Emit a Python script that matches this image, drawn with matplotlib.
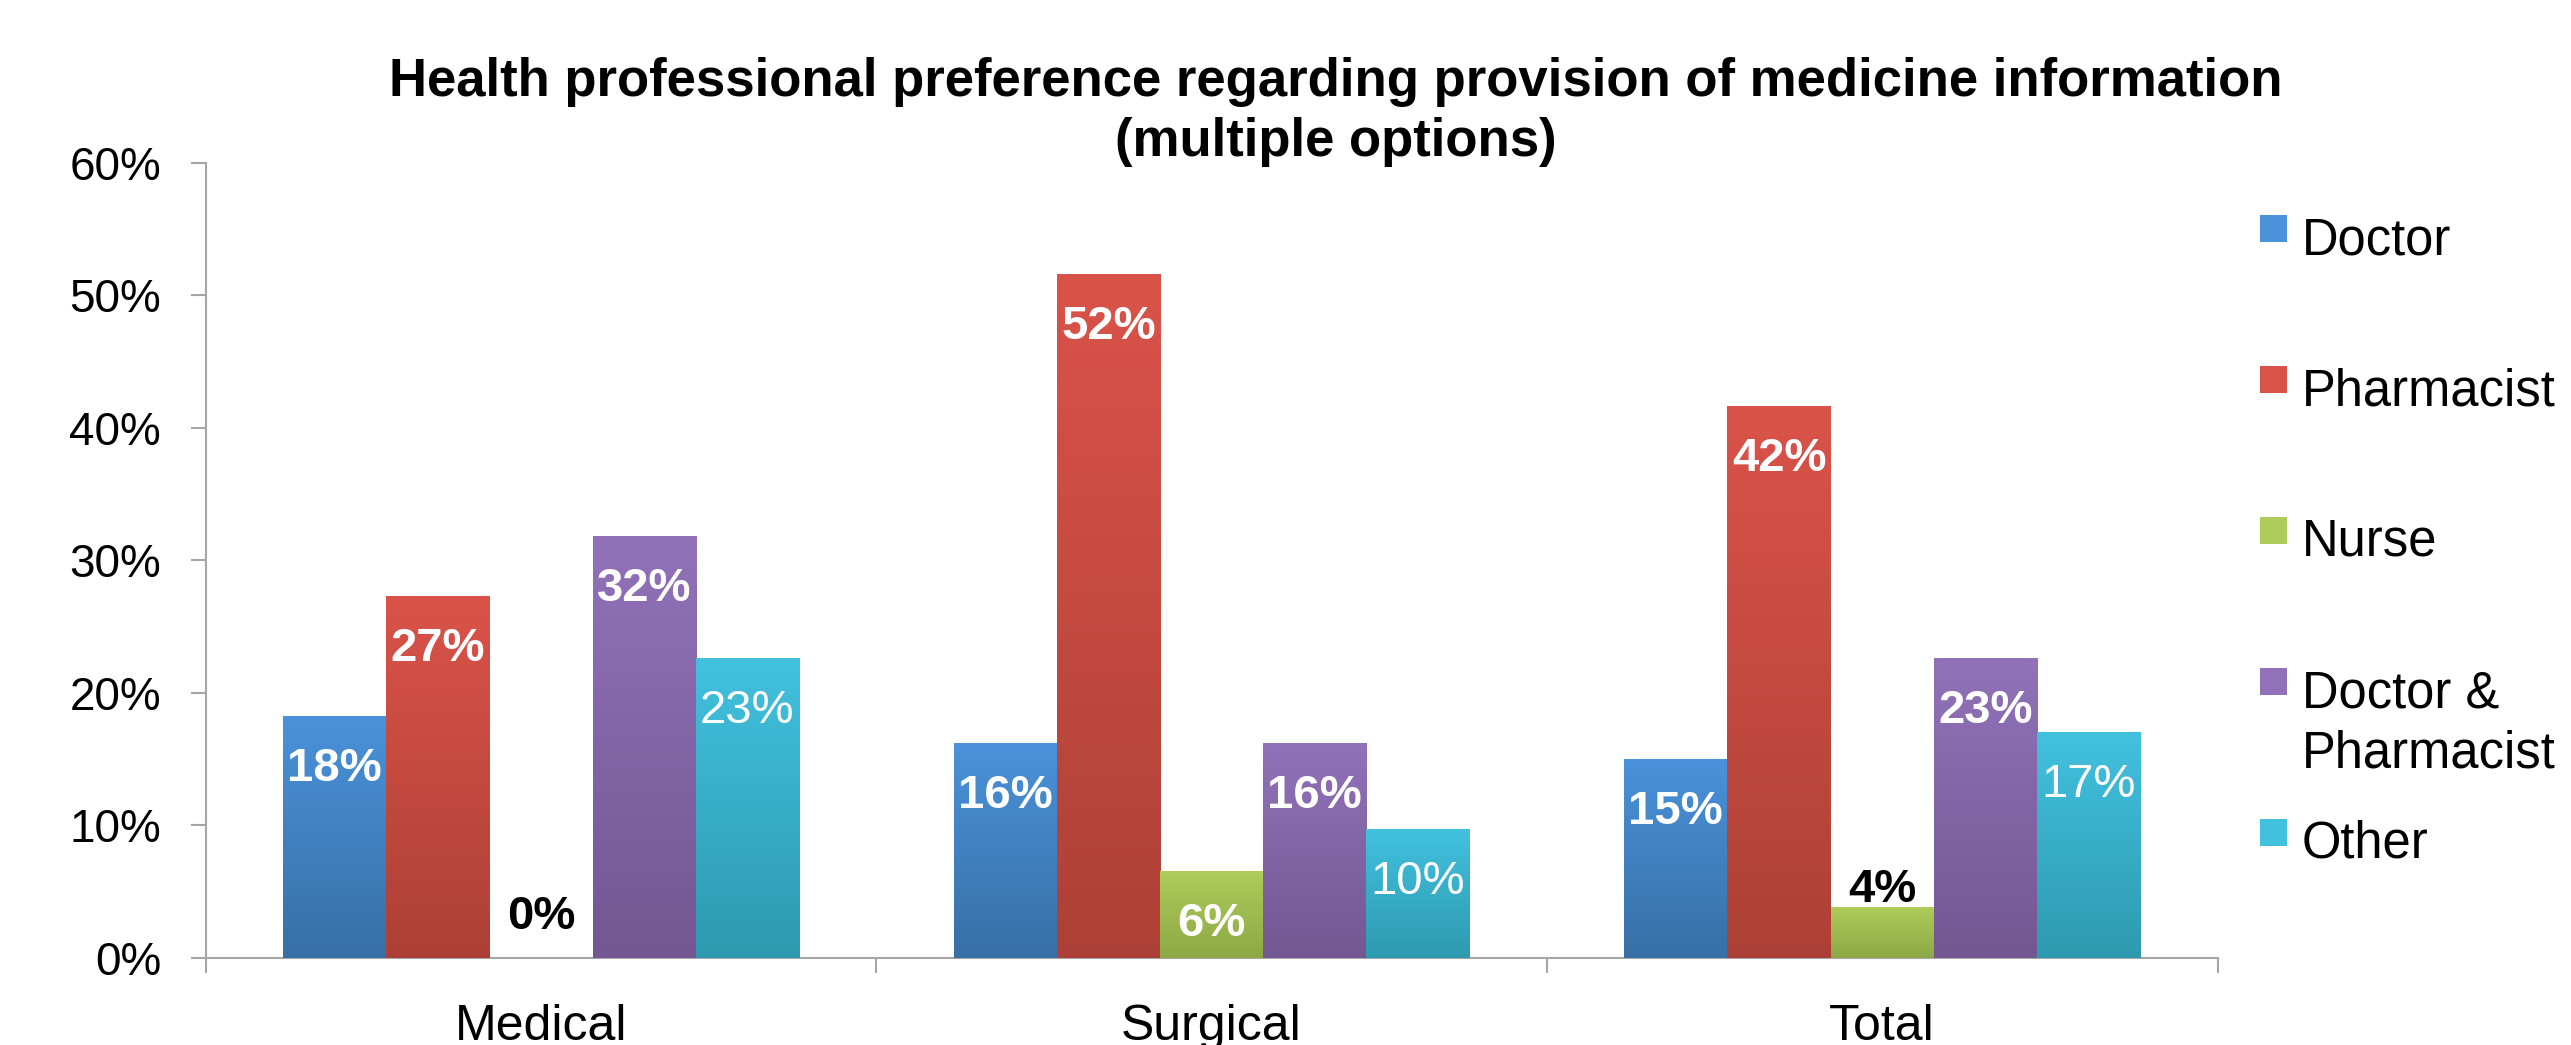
import numpy as np
import matplotlib.pyplot as plt
from matplotlib.colors import LinearSegmentedColormap
from matplotlib.patches import Rectangle

plt.rcParams['font.family'] = ['Liberation Sans', 'DejaVu Sans']

# data (percent)
groups = ["Medical", "Surgical", "Total"]
series = ["Doctor", "Pharmacist", "Nurse", "Doctor &\nPharmacist", "Other"]
doctor = [18.2, 16.2, 15.0]
pharmacist = [27.3, 51.6, 41.6]
nurse = [0.0, 6.5, 3.8]
doc_pharm = [31.8, 16.2, 22.6]
other = [22.6, 9.7, 17.0]
label_text = [
    ["18%", "16%", "15%"],
    ["27%", "52%", "42%"],
    ["0%", "6%", "4%"],
    ["32%", "16%", "23%"],
    ["23%", "10%", "17%"],
]
yticks = [0, 10, 20, 30, 40, 50, 60]

# gradient colours, top -> bottom
tops = ["#4A92DA", "#DA5349", "#AECB5B", "#9172B9", "#42C1DF"]
bottoms = ["#386FA6", "#AD4036", "#8DA945", "#735792", "#2D9AAF"]

W, H = 2571, 1045
fig = plt.figure(figsize=(W / 100, H / 100), dpi=100)
ax = fig.add_axes([205.6 / W, 1 - 958 / H, (2217.5 - 205.6) / W, (958 - 162.7) / H])

values = [doctor, pharmacist, nurse, doc_pharm, other]
x = np.arange(len(groups)) + 0.5
bw = 1 / 6.5
grad = np.linspace(0, 1, 256).reshape(-1, 1)

for i, vals in enumerate(values):
    bars = ax.bar(x + (i - 2) * bw, vals, width=bw, color=tops[i], linewidth=0, zorder=2)
    cmap = LinearSegmentedColormap.from_list("g%d" % i, [bottoms[i], tops[i]])
    for j, b in enumerate(bars):
        x0, h = b.get_x(), b.get_height()
        if h > 0:
            ax.imshow(grad, extent=(x0, x0 + bw, 0, h), origin='lower', aspect='auto',
                      cmap=cmap, zorder=3, interpolation='bilinear')
        cx = x0 + bw / 2
        weight = 'normal' if i == 4 else 'bold'
        if h >= 5:
            ax.annotate(label_text[i][j], (cx, h), xytext=(0, -46.5), textcoords='offset points',
                        ha='center', va='baseline', color='white', fontsize=34,
                        fontweight=weight, zorder=5)
        else:
            ax.annotate(label_text[i][j], (cx, max(h, 1.75)), xytext=(0, 4), textcoords='offset points',
                        ha='center', va='baseline', color='black', fontsize=34,
                        fontweight=weight, zorder=5)

ax.set_xlim(0, 3)
ax.set_ylim(0, 60)
ax.set_yticks(yticks)
ax.set_yticklabels(["%d%%" % t for t in yticks])
ax.set_xticks(x)
ax.set_xticklabels(groups)
ax.set_xticks([0, 1, 2, 3], minor=True)

for s in ['top', 'right']:
    ax.spines[s].set_visible(False)
for s in ['left', 'bottom']:
    ax.spines[s].set_color('#A6A6A6')
    ax.spines[s].set_linewidth(1.5)

ax.tick_params(axis='y', length=11, width=1.5, color='#A6A6A6', pad=21, labelsize=33)
ax.tick_params(axis='x', which='major', length=0, pad=33, labelsize=36)
ax.tick_params(axis='x', which='minor', length=11, width=1.5, color='#A6A6A6')

fig.text(1336 / W, 1 - 57 / H,
         "Health professional preference regarding provision of medicine information\n(multiple options)",
         ha='center', va='top', multialignment='center', fontsize=38, fontweight='bold',
         linespacing=1.25)

# legend, drawn by hand to keep the uneven Excel spacing
for i, name in enumerate(series):
    base = 252 + 151 * i
    fig.add_artist(Rectangle((2260 / W, 1 - (base - 10) / H), 27 / W, 27 / H,
                             transform=fig.transFigure, facecolor=tops[i], edgecolor='none'))
    fig.text(2302 / W, 1 - (base - 36) / H, name, ha='left', va='top', fontsize=36.5,
             linespacing=1.3)

fig.savefig("out.png", dpi=100)
